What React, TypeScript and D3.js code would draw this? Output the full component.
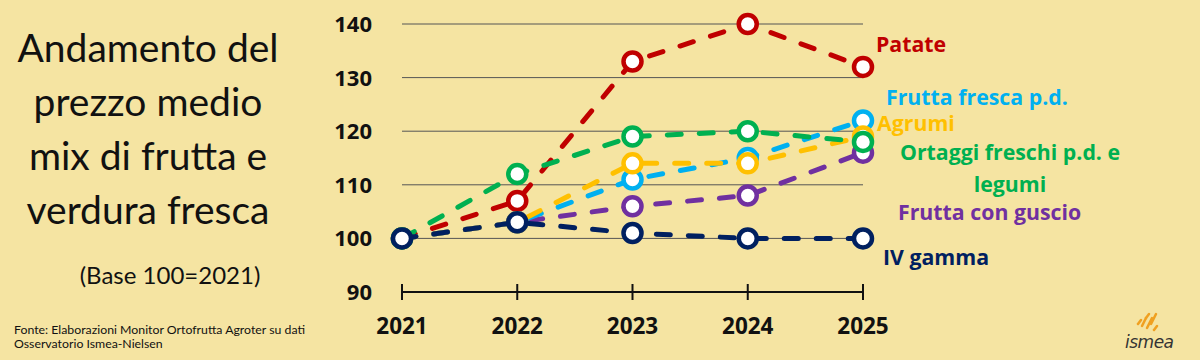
import * as d3 from 'd3';

const years = [2021, 2022, 2023, 2024, 2025];
const yTicks = [90, 100, 110, 120, 130, 140];

const patate = [100, 107, 133, 140, 132];
const fruttaConGuscio = [100, 103, 106, 108, 116];
const fruttaFresca = [100, 103, 111, 115, 122];
const agrumi = [100, 103, 114, 114, 119];
const ortaggi = [100, 112, 119, 120, 118];
const ivGamma = [100, 103, 101, 100, 100];

// drawing order: later series sit on top
const seriesList = [
  { name: 'Patate', values: patate, color: '#C00000' },
  { name: 'Frutta con guscio', values: fruttaConGuscio, color: '#7030A0' },
  { name: 'Frutta fresca p.d.', values: fruttaFresca, color: '#00B0F0' },
  { name: 'Agrumi', values: agrumi, color: '#FFC000' },
  { name: 'Ortaggi freschi p.d. e legumi', values: ortaggi, color: '#00B050' },
  { name: 'IV gamma', values: ivGamma, color: '#002060' },
];

const titleLines = ['Andamento del', 'prezzo medio', 'mix di frutta e', 'verdura fresca'];
const sourceLines = ['Fonte: Elaborazioni Monitor Ortofrutta Agroter su dati', 'Osservatorio Ismea-Nielsen'];

const W = 1200;
const H = 360;
const FONT = 'Lato, "Open Sans", sans-serif';
const BOLD = '"Open Sans", Lato, sans-serif';

export default function App() {
  const x = d3.scalePoint<number>().domain(years).range([402, 863]);
  const y = d3.scaleLinear().domain([90, 140]).range([292, 24]);

  const line = d3.line<number>()
    .x((_, i) => x(years[i]) as number)
    .y(d => y(d));

  // series labels on the right
  const labels = [
    { lines: ['Patate'], color: '#C00000', x: 876, y: 52, anchor: 'start' },
    { lines: ['Frutta fresca p.d.'], color: '#00B0F0', x: 886, y: 105, anchor: 'start' },
    { lines: ['Agrumi'], color: '#FFC000', x: 877, y: 131, anchor: 'start' },
    { lines: ['Ortaggi freschi p.d. e', 'legumi'], color: '#00B050', x: 1010, y: 160, anchor: 'middle' },
    { lines: ['Frutta con guscio'], color: '#7030A0', x: 898, y: 220, anchor: 'start' },
    { lines: ['IV gamma'], color: '#002060', x: 883, y: 265, anchor: 'start' },
  ];

  return (
    <div style={{ position: 'absolute', left: 0, top: 0 }}>
      <svg width={W} height={H} style={{ display: 'block' }} fontFamily={FONT}>
        <rect width={W} height={H} fill="#F5E4A2" />

        {/* title */}
        {titleLines.map((t, i) => (
          <text key={t} x={148} y={62 + i * 54} textAnchor="middle" fontSize={39} fill="#111">{t}</text>
        ))}
        <text x={170} y={284} textAnchor="middle" fontSize={24} fill="#111">(Base 100=2021)</text>
        {sourceLines.map((t, i) => (
          <text key={t} x={14} y={334 + i * 14} fontSize={12.3} fill="#111">{t}</text>
        ))}

        {/* gridlines */}
        {yTicks.filter(v => v > 90).map(v => (
          <line key={v} x1={x(2021)} x2={x(2025)} y1={y(v)} y2={y(v)} stroke="#555" strokeWidth={1} />
        ))}
        {yTicks.map(v => (
          <text key={v} x={372} y={y(v)} dy="0.36em" textAnchor="end" fontFamily={BOLD} fontSize={22} fontWeight="bold" fill="#111">{v}</text>
        ))}

        {/* x axis */}
        <line x1={x(2021)} x2={x(2025)} y1={y(90)} y2={y(90)} stroke="#111" strokeWidth={2} />
        {years.map(yr => (
          <g key={yr}>
            <line x1={x(yr)} x2={x(yr)} y1={y(90) - 8} y2={y(90) + 8} stroke="#111" strokeWidth={2} />
            <text x={x(yr)} y={334} textAnchor="middle" fontFamily={BOLD} fontSize={22.5} fontWeight="bold" fill="#111">{yr}</text>
          </g>
        ))}

        {/* series */}
        {seriesList.map(s => (
          <g key={s.name}>
            <path d={line(s.values) || ''} fill="none" stroke={s.color} strokeWidth={5}
              strokeDasharray="14 18" strokeLinecap="round" />
            {s.values.map((v, i) => (
              <circle key={i} cx={x(years[i])} cy={y(v)} r={9} fill="#fff" stroke={s.color} strokeWidth={4.5} />
            ))}
          </g>
        ))}

        {/* labels */}
        {labels.map(l => (
          <text key={l.lines[0]} x={l.x} y={l.y} textAnchor={l.anchor} fontFamily={BOLD} fontSize={21.3} fontWeight="bold" fill={l.color}>
            {l.lines.map((t, i) => (
              <tspan key={t} x={l.x} dy={i === 0 ? 0 : 32}>{t}</tspan>
            ))}
          </text>
        ))}

        {/* ismea logo */}
        <g transform="translate(1136,314)">
          {[[2, 10, 5, 6], [6, 12, 10, 4], [11, 14, 16, 4], [15, 10, 20, 0], [10, 4, 13, 0], [18, 16, 21, 12]].map((d, i) => (
            <line key={i} x1={d[0]} y1={d[1]} x2={d[2]} y2={d[3]} stroke="#F0A020" strokeWidth={2.5} strokeLinecap="round" />
          ))}
          <text x={-11} y={34} fontSize={17} fontStyle="italic" fill="#333" fontFamily="DejaVu Sans, sans-serif" letterSpacing={-0.5}>ismea</text>
        </g>
      </svg>
    </div>
  );
}
